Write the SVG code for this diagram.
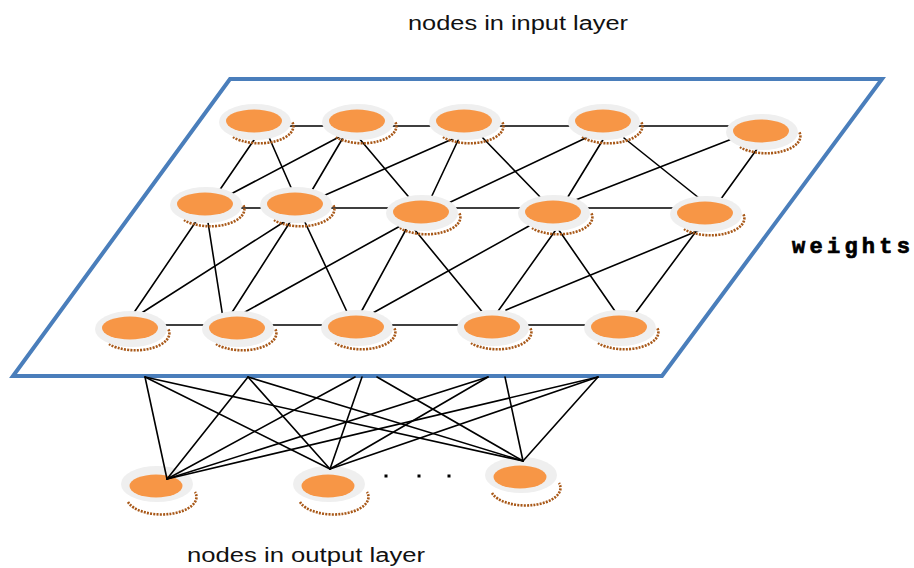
<svg xmlns="http://www.w3.org/2000/svg" xmlns:xlink="http://www.w3.org/1999/xlink" width="914" height="568" viewBox="0 0 914 568">
<style>
.plane{fill:#ffffff;stroke:#4a7ebb;stroke-width:4;stroke-linejoin:miter}
.halo{fill:#efefef}
.core{fill:#f79646}
.shadow{fill:none;stroke:#a85818;stroke-width:2.6;stroke-dasharray:2 1.2}
.edge{stroke:#000000;stroke-width:1.6;fill:none;stroke-linecap:round}
.label{font-family:"Liberation Sans","Open Sans",sans-serif;font-size:20px;fill:#111111}
.weights{font-family:"Liberation Mono","DejaVu Sans Mono",monospace;font-size:22px;font-weight:bold;fill:#000000;stroke:#000000;stroke-width:0.7}
.dot{fill:#000000}
</style>
<defs>
<g id="inNode">
<path class="shadow" d="M -22 15 A 34 17 0 0 0 37 -0.5"/>
<ellipse class="halo" cx="0" cy="0" rx="36" ry="18"/>
<ellipse class="core" cx="-1" cy="-1" rx="28" ry="11.5"/>
</g>
<g id="outNode">
<path class="shadow" d="M -29 18 A 34 17 0 0 0 38 8"/>
<ellipse class="halo" cx="0" cy="0" rx="36" ry="18"/>
<ellipse class="core" cx="-1" cy="2" rx="26.5" ry="11.5"/>
</g>
</defs>
<rect width="914" height="568" fill="#ffffff"/>
<text class="label" x="518" y="30" text-anchor="middle" textLength="220" lengthAdjust="spacingAndGlyphs">nodes in input layer</text>
<polygon id="plane" class="plane" points="230,79 882,79 662,376 13,376"/>
<text class="weights" x="792" y="253" textLength="118" lengthAdjust="spacing">weights</text>
<g id="output-nodes">
<g id="out-1"><use xlink:href="#outNode" href="#outNode" transform="translate(157,484)"/></g>
<g id="out-2"><use xlink:href="#outNode" href="#outNode" transform="translate(329,484)"/></g>
<g id="out-3"><use xlink:href="#outNode" href="#outNode" transform="translate(521,475)"/></g>
</g>
<g id="ellipsis">
<rect class="dot" x="384.5" y="474.5" width="3" height="3"/>
<rect class="dot" x="417.5" y="474.5" width="3" height="3"/>
<rect class="dot" x="447.5" y="474.5" width="3" height="3"/>
</g>
<g id="connectors" class="edge">
<!-- row 1 horizontal -->
<line x1="255" y1="126" x2="358" y2="126"/>
<line x1="358" y1="126" x2="465" y2="126"/>
<line x1="465" y1="126" x2="604" y2="126"/>
<line x1="604" y1="126" x2="762" y2="126"/>
<!-- row 2 horizontal -->
<line x1="206" y1="208" x2="296" y2="208"/>
<line x1="296" y1="208" x2="422" y2="208"/>
<line x1="422" y1="208" x2="553" y2="208"/>
<line x1="553" y1="208" x2="705" y2="208"/>
<!-- row 3 horizontal -->
<line x1="131" y1="325" x2="238" y2="325"/>
<line x1="238" y1="325" x2="357" y2="325"/>
<line x1="357" y1="325" x2="493" y2="325"/>
<line x1="493" y1="325" x2="620" y2="325"/>
<!-- row 1 to row 2 -->
<line x1="256" y1="137" x2="219" y2="191"/>
<line x1="268" y1="135" x2="293" y2="192"/>
<line x1="339" y1="137" x2="229" y2="195"/>
<line x1="344" y1="136" x2="311" y2="192"/>
<line x1="358" y1="137" x2="413" y2="202"/>
<line x1="457" y1="137" x2="323" y2="196"/>
<line x1="461" y1="134" x2="429" y2="202"/>
<line x1="481" y1="136" x2="545" y2="202"/>
<line x1="592" y1="135" x2="440" y2="207"/>
<line x1="604" y1="138" x2="566" y2="200"/>
<line x1="624" y1="138" x2="699" y2="198"/>
<line x1="737" y1="137" x2="573" y2="201"/>
<line x1="757" y1="149" x2="718" y2="203"/>
<!-- row 2 to row 3 -->
<line x1="199" y1="217" x2="133" y2="314"/>
<line x1="207" y1="216" x2="223" y2="318"/>
<line x1="287" y1="220" x2="140" y2="314"/>
<line x1="292" y1="219" x2="231" y2="314"/>
<line x1="303" y1="218" x2="348" y2="314"/>
<line x1="402" y1="225" x2="245" y2="312"/>
<line x1="409" y1="224" x2="360" y2="314"/>
<line x1="410" y1="224" x2="484" y2="314"/>
<line x1="529" y1="226" x2="371" y2="314"/>
<line x1="560" y1="224" x2="496" y2="314"/>
<line x1="556" y1="226" x2="617" y2="314"/>
<line x1="707" y1="227" x2="506" y2="310"/>
<line x1="700" y1="226" x2="634" y2="315"/>
<!-- plane to output layer -->
<line x1="145" y1="377" x2="167" y2="479"/>
<line x1="145" y1="377" x2="330" y2="469"/>
<line x1="145" y1="377" x2="523" y2="461"/>
<line x1="248" y1="377" x2="167" y2="479"/>
<line x1="248" y1="377" x2="330" y2="469"/>
<line x1="248" y1="377" x2="523" y2="461"/>
<line x1="355" y1="377" x2="167" y2="479"/>
<line x1="362" y1="377" x2="330" y2="469"/>
<line x1="377" y1="377" x2="523" y2="461"/>
<line x1="488" y1="377" x2="167" y2="479"/>
<line x1="488" y1="377" x2="330" y2="469"/>
<line x1="505" y1="377" x2="523" y2="461"/>
<line x1="598" y1="377" x2="167" y2="479"/>
<line x1="598" y1="377" x2="330" y2="469"/>
<line x1="598" y1="377" x2="523" y2="461"/>
</g>
<g id="input-nodes">
<g id="in-r1-n1"><use xlink:href="#inNode" href="#inNode" transform="translate(255,122)"/></g>
<g id="in-r1-n2"><use xlink:href="#inNode" href="#inNode" transform="translate(358,122)"/></g>
<g id="in-r1-n3"><use xlink:href="#inNode" href="#inNode" transform="translate(465,122)"/></g>
<g id="in-r1-n4"><use xlink:href="#inNode" href="#inNode" transform="translate(604,122)"/></g>
<g id="in-r1-n5"><use xlink:href="#inNode" href="#inNode" transform="translate(762,132)"/></g>
<g id="in-r2-n1"><use xlink:href="#inNode" href="#inNode" transform="translate(206,205)"/></g>
<g id="in-r2-n2"><use xlink:href="#inNode" href="#inNode" transform="translate(296,205)"/></g>
<g id="in-r2-n3"><use xlink:href="#inNode" href="#inNode" transform="translate(422,213)"/></g>
<g id="in-r2-n4"><use xlink:href="#inNode" href="#inNode" transform="translate(554,213)"/></g>
<g id="in-r2-n5"><use xlink:href="#inNode" href="#inNode" transform="translate(706,214)"/></g>
<g id="in-r3-n1"><use xlink:href="#inNode" href="#inNode" transform="translate(131,329)"/></g>
<g id="in-r3-n2"><use xlink:href="#inNode" href="#inNode" transform="translate(238,329)"/></g>
<g id="in-r3-n3"><use xlink:href="#inNode" href="#inNode" transform="translate(357,328)"/></g>
<g id="in-r3-n4"><use xlink:href="#inNode" href="#inNode" transform="translate(493,328)"/></g>
<g id="in-r3-n5"><use xlink:href="#inNode" href="#inNode" transform="translate(620,328)"/></g>
</g>
<text class="label" x="306" y="562" text-anchor="middle" textLength="238" lengthAdjust="spacingAndGlyphs">nodes in output layer</text>
</svg>
